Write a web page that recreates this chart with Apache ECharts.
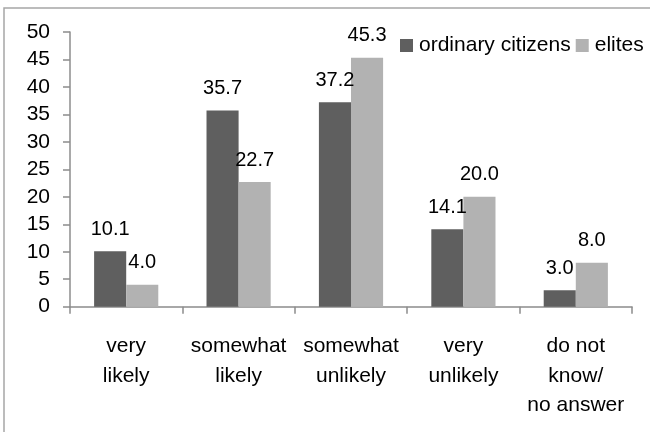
<!DOCTYPE html>
<html>
<head>
<meta charset="utf-8">
<script src="https://cdn.jsdelivr.net/npm/echarts@6/dist/echarts.min.js"></script>
<style>
  html, body { margin: 0; padding: 0; background: #ffffff; }
  #chart { width: 650px; height: 432px; }
</style>
</head>
<body>
<div id="chart"></div>
<script>
// Survey answers by group (percent)
const categories = ['very\nlikely', 'somewhat\nlikely', 'somewhat\nunlikely', 'very\nunlikely', 'do not\nknow/\nno answer'];
const ordinaryCitizens = [10.1, 35.7, 37.2, 14.1, 3.0];
const elites = [4.0, 22.7, 45.3, 20.0, 8.0];
const seriesNames = ['ordinary citizens', 'elites'];
const yTicks = { min: 0, max: 50, interval: 5 };

const FONT = '"Liberation Sans", Arial, sans-serif';
const AXIS_COLOR = '#8c8c8c';

const chart = echarts.init(document.getElementById('chart'), null, { renderer: 'canvas' });

const labelStyle = {
  show: true,
  position: 'top',
  distance: 12,
  color: '#000',
  fontFamily: FONT,
  fontSize: 20,
  formatter: p => p.value.toFixed(1)
};

chart.setOption({
  animation: false,
  backgroundColor: '#ffffff',
  graphic: [{
    type: 'rect',
    shape: { x: 4, y: 8, width: 700, height: 500 },
    style: { fill: 'none', stroke: '#a6a6a6', lineWidth: 1.5 },
    silent: true,
    z: -10
  }],
  grid: { left: 70, right: 18, top: 32, bottom: 125.3, containLabel: false },
  legend: {
    orient: 'horizontal',
    left: 395,
    top: 30,
    width: 300,
    itemWidth: 13,
    itemHeight: 13,
    itemGap: 5,
    icon: 'rect',
    textStyle: { fontFamily: FONT, fontSize: 21, color: '#000', padding: [0, 0, 0, 1] },
    data: seriesNames
  },
  xAxis: {
    type: 'category',
    data: categories,
    axisLine: { lineStyle: { color: AXIS_COLOR, width: 1.5 } },
    axisTick: { show: true, length: 7, lineStyle: { color: AXIS_COLOR, width: 1.5 } },
    axisLabel: {
      interval: 0,
      margin: 25,
      color: '#000',
      fontFamily: FONT,
      fontSize: 21,
      lineHeight: 29.5
    }
  },
  yAxis: {
    type: 'value',
    min: yTicks.min,
    max: yTicks.max,
    interval: yTicks.interval,
    splitLine: { show: false },
    axisLine: { show: true, lineStyle: { color: AXIS_COLOR, width: 1.5 } },
    axisTick: { show: true, length: 7, lineStyle: { color: AXIS_COLOR, width: 1.5 } },
    axisLabel: { margin: 20, color: '#000', fontFamily: FONT, fontSize: 21 }
  },
  series: [
    {
      name: seriesNames[0],
      type: 'bar',
      data: ordinaryCitizens,
      itemStyle: { color: '#5f5f5f' },
      barGap: '0%',
      barCategoryGap: '42.9%',
      label: labelStyle
    },
    {
      name: seriesNames[1],
      type: 'bar',
      data: elites,
      itemStyle: { color: '#b2b2b2' },
      barGap: '0%',
      barCategoryGap: '42.9%',
      label: labelStyle
    }
  ]
});
</script>
</body>
</html>
